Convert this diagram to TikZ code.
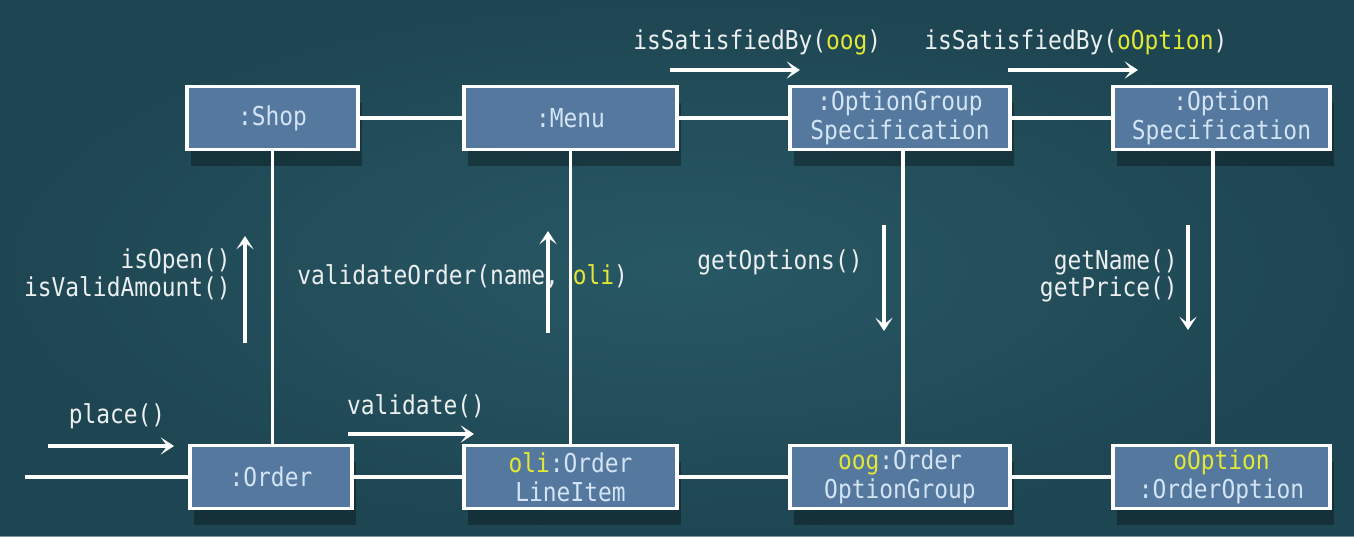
\documentclass[tikz,border=0pt]{standalone}
\usepackage{fontspec}
\setmonofont[FakeStretch=0.88]{DejaVu Sans Mono}
\usetikzlibrary{arrows.meta,shadows}
\definecolor{bgc}{HTML}{23505D}
\definecolor{bgdark}{HTML}{1A3F4A}
\definecolor{bglight}{HTML}{2E5F6C}
\definecolor{boxfill}{HTML}{55789F}
\definecolor{boxtext}{HTML}{D3E4F5}
\definecolor{lbl}{HTML}{ECEFF0}
\definecolor{hl}{HTML}{E2E834}
\tikzset{
  obj/.style={draw=white, line width=2.3pt, fill=boxfill, text=boxtext,
    font=\ttfamily\fontsize{19.5}{21.5}\selectfont, align=center, inner sep=0pt,
    minimum height={63*0.75pt},
    drop shadow={shadow xshift=3pt, shadow yshift=-12pt, opacity=0.3, fill=black}},
  link/.style={draw=white, line width=2.3pt},
  msg/.style={draw=white, line width=2.4pt, -{Stealth[length=10pt,width=13pt,inset=5pt]}},
  lab/.style={text=lbl, font=\ttfamily\fontsize{19.5}{20.5}\selectfont, inner sep=0pt}
}
\begin{document}
\begin{tikzpicture}[x=0.75pt,y=-0.75pt]
\useasboundingbox (0,0) rectangle (1354,536);
\fill[bgc] (0,0) rectangle (1354,536);
\shade[inner color=bglight, outer color=bgdark, opacity=0.55] (0,0) rectangle (1354,536);
% objects
\node[obj, minimum width={171*0.75pt}] (shop) at (272.5,118) {:Shop};
\node[obj, minimum width={213*0.75pt}] (menu) at (570.5,118) {:Menu};
\node[obj, minimum width={220*0.75pt}] (ogs) at (900,118) {:OptionGroup\\Specification};
\node[obj, minimum width={217*0.75pt}] (os) at (1221.5,118) {:Option\\Specification};
\node[obj, minimum width={162*0.75pt}] (order) at (271,477) {:Order};
\node[obj, minimum width={213*0.75pt}] (oli) at (570.5,477) {\textcolor{hl}{oli}:Order\\LineItem};
\node[obj, minimum width={220*0.75pt}] (oog) at (900,477) {\textcolor{hl}{oog}:Order\\OptionGroup};
\node[obj, minimum width={217*0.75pt}] (oo) at (1221.5,477) {\textcolor{hl}{oOption}\\:OrderOption};
% links
\coordinate (start) at (25,477);
\draw[link] (shop.east) -- (menu.west);
\draw[link] (menu.east) -- (ogs.west);
\draw[link] (ogs.east) -- (os.west);
\draw[link] (start) -- (order.west);
\draw[link] (order.east) -- (oli.west);
\draw[link] (oli.east) -- (oog.west);
\draw[link] (oog.east) -- (oo.west);
\draw[link] (shop.south) -- (order.north -| shop.south);
\draw[link] (menu.south) -- (oli.north -| menu.south);
\draw[link] (ogs.south -| 903,0) -- (oog.north -| 903,0);
\draw[link] (os.south -| 1213,0) -- (oo.north -| 1213,0);
% messages
\coordinate (p1) at (48,446); \coordinate (p2) at (174,446);
\draw[msg] (p1) -- (p2);
\node[lab] (tplace) at (117,416) {place()};
\coordinate (v1) at (348,434); \coordinate (v2) at (474,434);
\draw[msg] (v1) -- (v2);
\node[lab] (tval) at (416,406) {validate()};
\coordinate (a1) at (245,343); \coordinate (a2) at (245,236);
\draw[msg] (a1) -- (a2);
\node[lab, anchor=east] (topen) at (231,261) {isOpen()};
\node[lab, anchor=east] (tvalid) at (231,288) {isValidAmount()};
\node[lab, anchor=west] (tvo) at (297,276) {validateOrder(name, \textcolor{hl}{oli})};
\coordinate (b1) at (548,333); \coordinate (b2) at (548,231);
\draw[msg] (b1) -- (b2);
\coordinate (c1) at (884,225); \coordinate (c2) at (884,331);
\draw[msg] (c1) -- (c2);
\node[lab, anchor=west] (tgo) at (697,262) {getOptions()};
\coordinate (d1) at (1188,225); \coordinate (d2) at (1188,330);
\draw[msg] (d1) -- (d2);
\node[lab, anchor=east] (tgn) at (1178,262) {getName()};
\node[lab, anchor=east] (tgp) at (1178,289) {getPrice()};
\node[lab, anchor=west] (tis1) at (633,42) {isSatisfiedBy(\textcolor{hl}{oog})};
\coordinate (e1) at (670,70); \coordinate (e2) at (800,70);
\draw[msg] (e1) -- (e2);
\node[lab, anchor=west] (tis2) at (924,42) {isSatisfiedBy(\textcolor{hl}{oOption})};
\coordinate (f1) at (1008,70); \coordinate (f2) at (1138,70);
\draw[msg] (f1) -- (f2);
\end{tikzpicture}
\end{document}
